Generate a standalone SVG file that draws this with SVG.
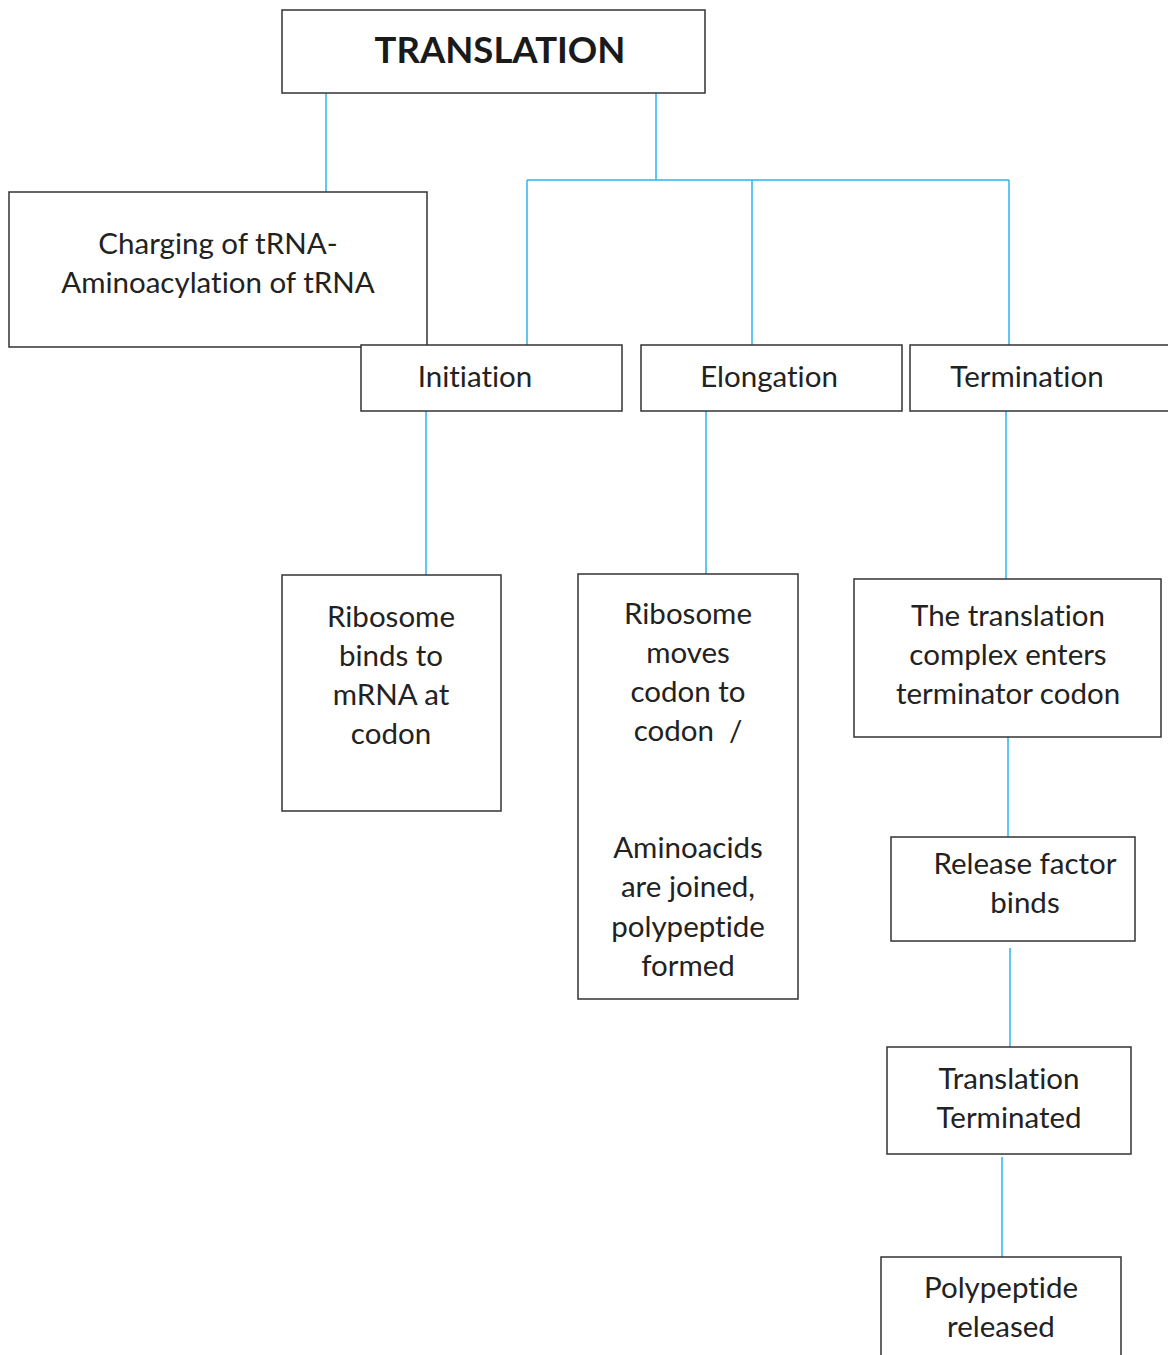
<svg xmlns="http://www.w3.org/2000/svg" width="1168" height="1355" viewBox="0 0 1168 1355">
<style>
.box{fill:#fff;stroke:#333;stroke-width:1.5}
.lbl{font-family:Lato,"Open Sans",sans-serif;font-size:29.5px;fill:#222;text-anchor:middle;font-variant-ligatures:none}
.ttl{font-family:Lato,"Open Sans",sans-serif;font-size:36.5px;font-weight:bold;fill:#1a1a1a;text-anchor:middle;font-variant-ligatures:none}
.con{stroke:#29b6ee;stroke-width:1.5;fill:none}
</style>
<rect width="1168" height="1355" fill="#fff"/>
<g id="connectors">
<path class="con" d="M326,93V192"/>
<path class="con" d="M656,93V180"/>
<path class="con" d="M527,180H1009"/>
<path class="con" d="M527,180V345"/>
<path class="con" d="M752,180V345"/>
<path class="con" d="M1009,180V345"/>
<path class="con" d="M426,411V575"/>
<path class="con" d="M706,411V574"/>
<path class="con" d="M1006,411V579"/>
<path class="con" d="M1008,737V837"/>
<path class="con" d="M1010,948V1047"/>
<path class="con" d="M1002,1157V1257"/>
</g>
<g id="translation">
<rect class="box" x="282" y="10" width="423" height="83"/>
<text class="ttl" x="500" y="63">TRANSLATION</text>
</g>
<g id="charging">
<rect class="box" x="9" y="192" width="418" height="155"/>
<text class="lbl" x="218" y="254">Charging of tRNA-</text>
<text class="lbl" x="218" y="293">Aminoacylation of tRNA</text>
</g>
<g id="initiation">
<rect class="box" x="361" y="345" width="261" height="66"/>
<text class="lbl" x="475" y="387">Initiation</text>
</g>
<g id="elongation">
<rect class="box" x="641" y="345" width="261" height="66"/>
<text class="lbl" x="769" y="387">Elongation</text>
</g>
<g id="termination">
<rect class="box" x="910" y="345" width="270" height="66"/>
<text class="lbl" x="1027" y="387">Termination</text>
</g>
<g id="ribosome-binds">
<rect class="box" x="282" y="575" width="219" height="236"/>
<text class="lbl" x="391" y="627">Ribosome</text>
<text class="lbl" x="391" y="666">binds to</text>
<text class="lbl" x="391" y="705">mRNA at</text>
<text class="lbl" x="391" y="744">codon</text>
</g>
<g id="ribosome-moves">
<rect class="box" x="578" y="574" width="220" height="425"/>
<text class="lbl" x="688" y="624">Ribosome</text>
<text class="lbl" x="688" y="663">moves</text>
<text class="lbl" x="688" y="702">codon to</text>
<text class="lbl" x="688" y="741" xml:space="preserve">codon  /</text>
<text class="lbl" x="688" y="858">Aminoacids</text>
<text class="lbl" x="688" y="897">are joined,</text>
<text class="lbl" x="688" y="937">polypeptide</text>
<text class="lbl" x="688" y="976">formed</text>
</g>
<g id="terminator-codon">
<rect class="box" x="854" y="579" width="307" height="158"/>
<text class="lbl" x="1008" y="626">The translation</text>
<text class="lbl" x="1008" y="665">complex enters</text>
<text class="lbl" x="1008" y="704">terminator codon</text>
</g>
<g id="release-factor">
<rect class="box" x="891" y="837" width="244" height="104"/>
<text class="lbl" x="1025" y="874">Release factor</text>
<text class="lbl" x="1025" y="913">binds</text>
</g>
<g id="translation-terminated">
<rect class="box" x="887" y="1047" width="244" height="107"/>
<text class="lbl" x="1009" y="1089">Translation</text>
<text class="lbl" x="1009" y="1128">Terminated</text>
</g>
<g id="polypeptide-released">
<rect class="box" x="881" y="1257" width="240" height="110"/>
<text class="lbl" x="1001" y="1298">Polypeptide</text>
<text class="lbl" x="1001" y="1337">released</text>
</g>
</svg>
